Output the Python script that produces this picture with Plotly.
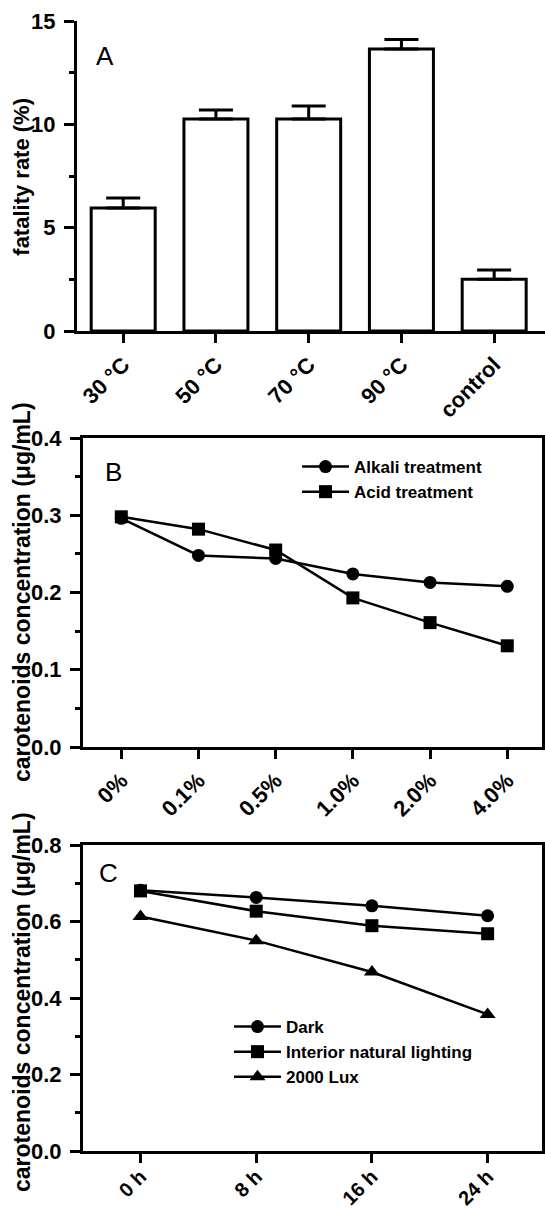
import plotly.graph_objects as go

# ---- Data ----
temp_labels = ["30 °C", "50 °C", "70 °C", "90 °C", "control"]
fatality = [5.95, 10.26, 10.26, 13.65, 2.5]
fatality_err = [0.48, 0.43, 0.63, 0.46, 0.45]

conc_labels = ["0%", "0.1%", "0.5%", "1.0%", "2.0%", "4.0%"]
alkali = [0.296, 0.248, 0.244, 0.224, 0.213, 0.208]
acid = [0.298, 0.282, 0.255, 0.193, 0.161, 0.131]

time_labels = ["0 h", "8 h", "16 h", "24 h"]
dark = [0.682, 0.663, 0.641, 0.615]
interior = [0.680, 0.627, 0.589, 0.568]
lux2000 = [0.613, 0.550, 0.468, 0.357]

W, H = 545, 1209
FONT = "Liberation Sans, Arial, sans-serif"

def px(x):
    return x / W

def py(y):
    return 1 - y / H

fig = go.Figure()

# Panel A bars
fig.add_trace(go.Bar(
    x=temp_labels, y=fatality, width=0.69,
    marker=dict(color="white", line=dict(color="black", width=3)),
    error_y=dict(type="data", array=fatality_err, arrayminus=[0]*5,
                 color="black", thickness=3, width=17),
    showlegend=False, xaxis="x", yaxis="y"))

# Panel B lines
fig.add_trace(go.Scatter(
    x=conc_labels, y=alkali, mode="lines+markers", name="Alkali treatment",
    line=dict(color="black", width=2.5),
    marker=dict(symbol="circle", size=13, color="black"),
    xaxis="x2", yaxis="y2", legend="legend"))
fig.add_trace(go.Scatter(
    x=conc_labels, y=acid, mode="lines+markers", name="Acid treatment",
    line=dict(color="black", width=2.5),
    marker=dict(symbol="square", size=13, color="black"),
    xaxis="x2", yaxis="y2", legend="legend"))

# Panel C lines
fig.add_trace(go.Scatter(
    x=time_labels, y=dark, mode="lines+markers", name="Dark",
    line=dict(color="black", width=2.5),
    marker=dict(symbol="circle", size=13, color="black"),
    xaxis="x3", yaxis="y3", legend="legend2"))
fig.add_trace(go.Scatter(
    x=time_labels, y=interior, mode="lines+markers", name="Interior natural lighting",
    line=dict(color="black", width=2.5),
    marker=dict(symbol="square", size=13, color="black"),
    xaxis="x3", yaxis="y3", legend="legend2"))
fig.add_trace(go.Scatter(
    x=time_labels, y=lux2000, mode="lines+markers", name="2000 Lux",
    line=dict(color="black", width=2.5),
    marker=dict(symbol="triangle-up", size=14, color="black"),
    xaxis="x3", yaxis="y3", legend="legend2"))

tickfont = dict(family=FONT, size=22, color="black", weight="bold")

def xax(domain, anchor, rng, mirror, standoff=0, size=22):
    return dict(domain=domain, anchor=anchor, type="category", range=rng,
                showline=True, linecolor="black", linewidth=3, mirror=mirror,
                ticks="outside", ticklen=9, tickwidth=3, tickcolor="black",
                tickangle=-45, tickfont=dict(tickfont, size=size),
                showgrid=False, zeroline=False,
                automargin=False, ticklabelstandoff=standoff)

def yax(domain, anchor, rng, dtick, minor, mirror, fmt=None):
    d = dict(domain=domain, anchor=anchor, range=rng, dtick=dtick, tick0=0,
             showline=True, linecolor="black", linewidth=3, mirror=mirror,
             ticks="outside", ticklen=10, tickwidth=3, tickcolor="black",
             tickfont=tickfont, showgrid=False, zeroline=False, automargin=False,
             ticklabelstandoff=4,
             minor=dict(dtick=minor, ticks="outside", ticklen=5, tickwidth=3,
                        tickcolor="black", showgrid=False))
    if fmt:
        d["tickformat"] = fmt
    return d

legfont = dict(family=FONT, size=17, weight="bold", color="black")

fig.update_layout(
    width=W, height=H,
    margin=dict(l=0, r=0, t=0, b=0, pad=0, autoexpand=False),
    paper_bgcolor="white", plot_bgcolor="white",
    font=dict(family=FONT, color="black"),
    xaxis=xax([px(77), 1.0], "y", [-0.498, 4.548], False),
    yaxis=yax([py(331), py(21)], "x", [0, 15], 5, 2.5, False),
    xaxis2=xax([px(83), px(542)], "y2", [-0.496, 5.45], True),
    yaxis2=yax([py(747), py(438)], "x2", [0, 0.4], 0.1, 0.05, True, ".1f"),
    xaxis3=xax([px(83), px(542)], "y3", [-0.497, 3.47], True, standoff=-6, size=20),
    yaxis3=yax([py(1151), py(845)], "x3", [0, 0.8], 0.2, 0.1, True, ".1f"),
    legend=dict(x=px(297), y=py(449), xanchor="left", yanchor="top",
                bgcolor="rgba(0,0,0,0)", font=legfont, tracegroupgap=0,
                itemwidth=47),
    legend2=dict(x=px(229), y=py(1009), xanchor="left", yanchor="top",
                 bgcolor="rgba(0,0,0,0)", font=legfont, tracegroupgap=0,
                 itemwidth=47),
)

ann = [
    dict(text="A", x=px(105), y=py(56)),
    dict(text="B", x=px(113), y=py(472)),
    dict(text="C", x=px(108.6), y=py(873)),
]
for a in ann:
    fig.add_annotation(xref="paper", yref="paper", showarrow=False,
                       xanchor="center", yanchor="middle",
                       font=dict(family=FONT, size=26, color="black"), **a)

titles = [
    dict(text="fatality rate (%)", x=px(21.7), y=py(177), size=22),
    dict(text="carotenoids concentration (μg/mL)", x=px(22), y=py(592), size=23),
    dict(text="carotenoids concentration (μg/mL)", x=px(22), y=py(1002), size=23),
]
for t in titles:
    fig.add_annotation(xref="paper", yref="paper", showarrow=False, textangle=-90,
                       xanchor="center", yanchor="middle", text=t["text"],
                       x=t["x"], y=t["y"],
                       font=dict(family=FONT, size=t["size"], color="black", weight="bold"))

fig.write_html("out.html", config={"displayModeBar": False},
               post_script="document.body.style.margin='0';document.body.style.overflow='hidden';")
